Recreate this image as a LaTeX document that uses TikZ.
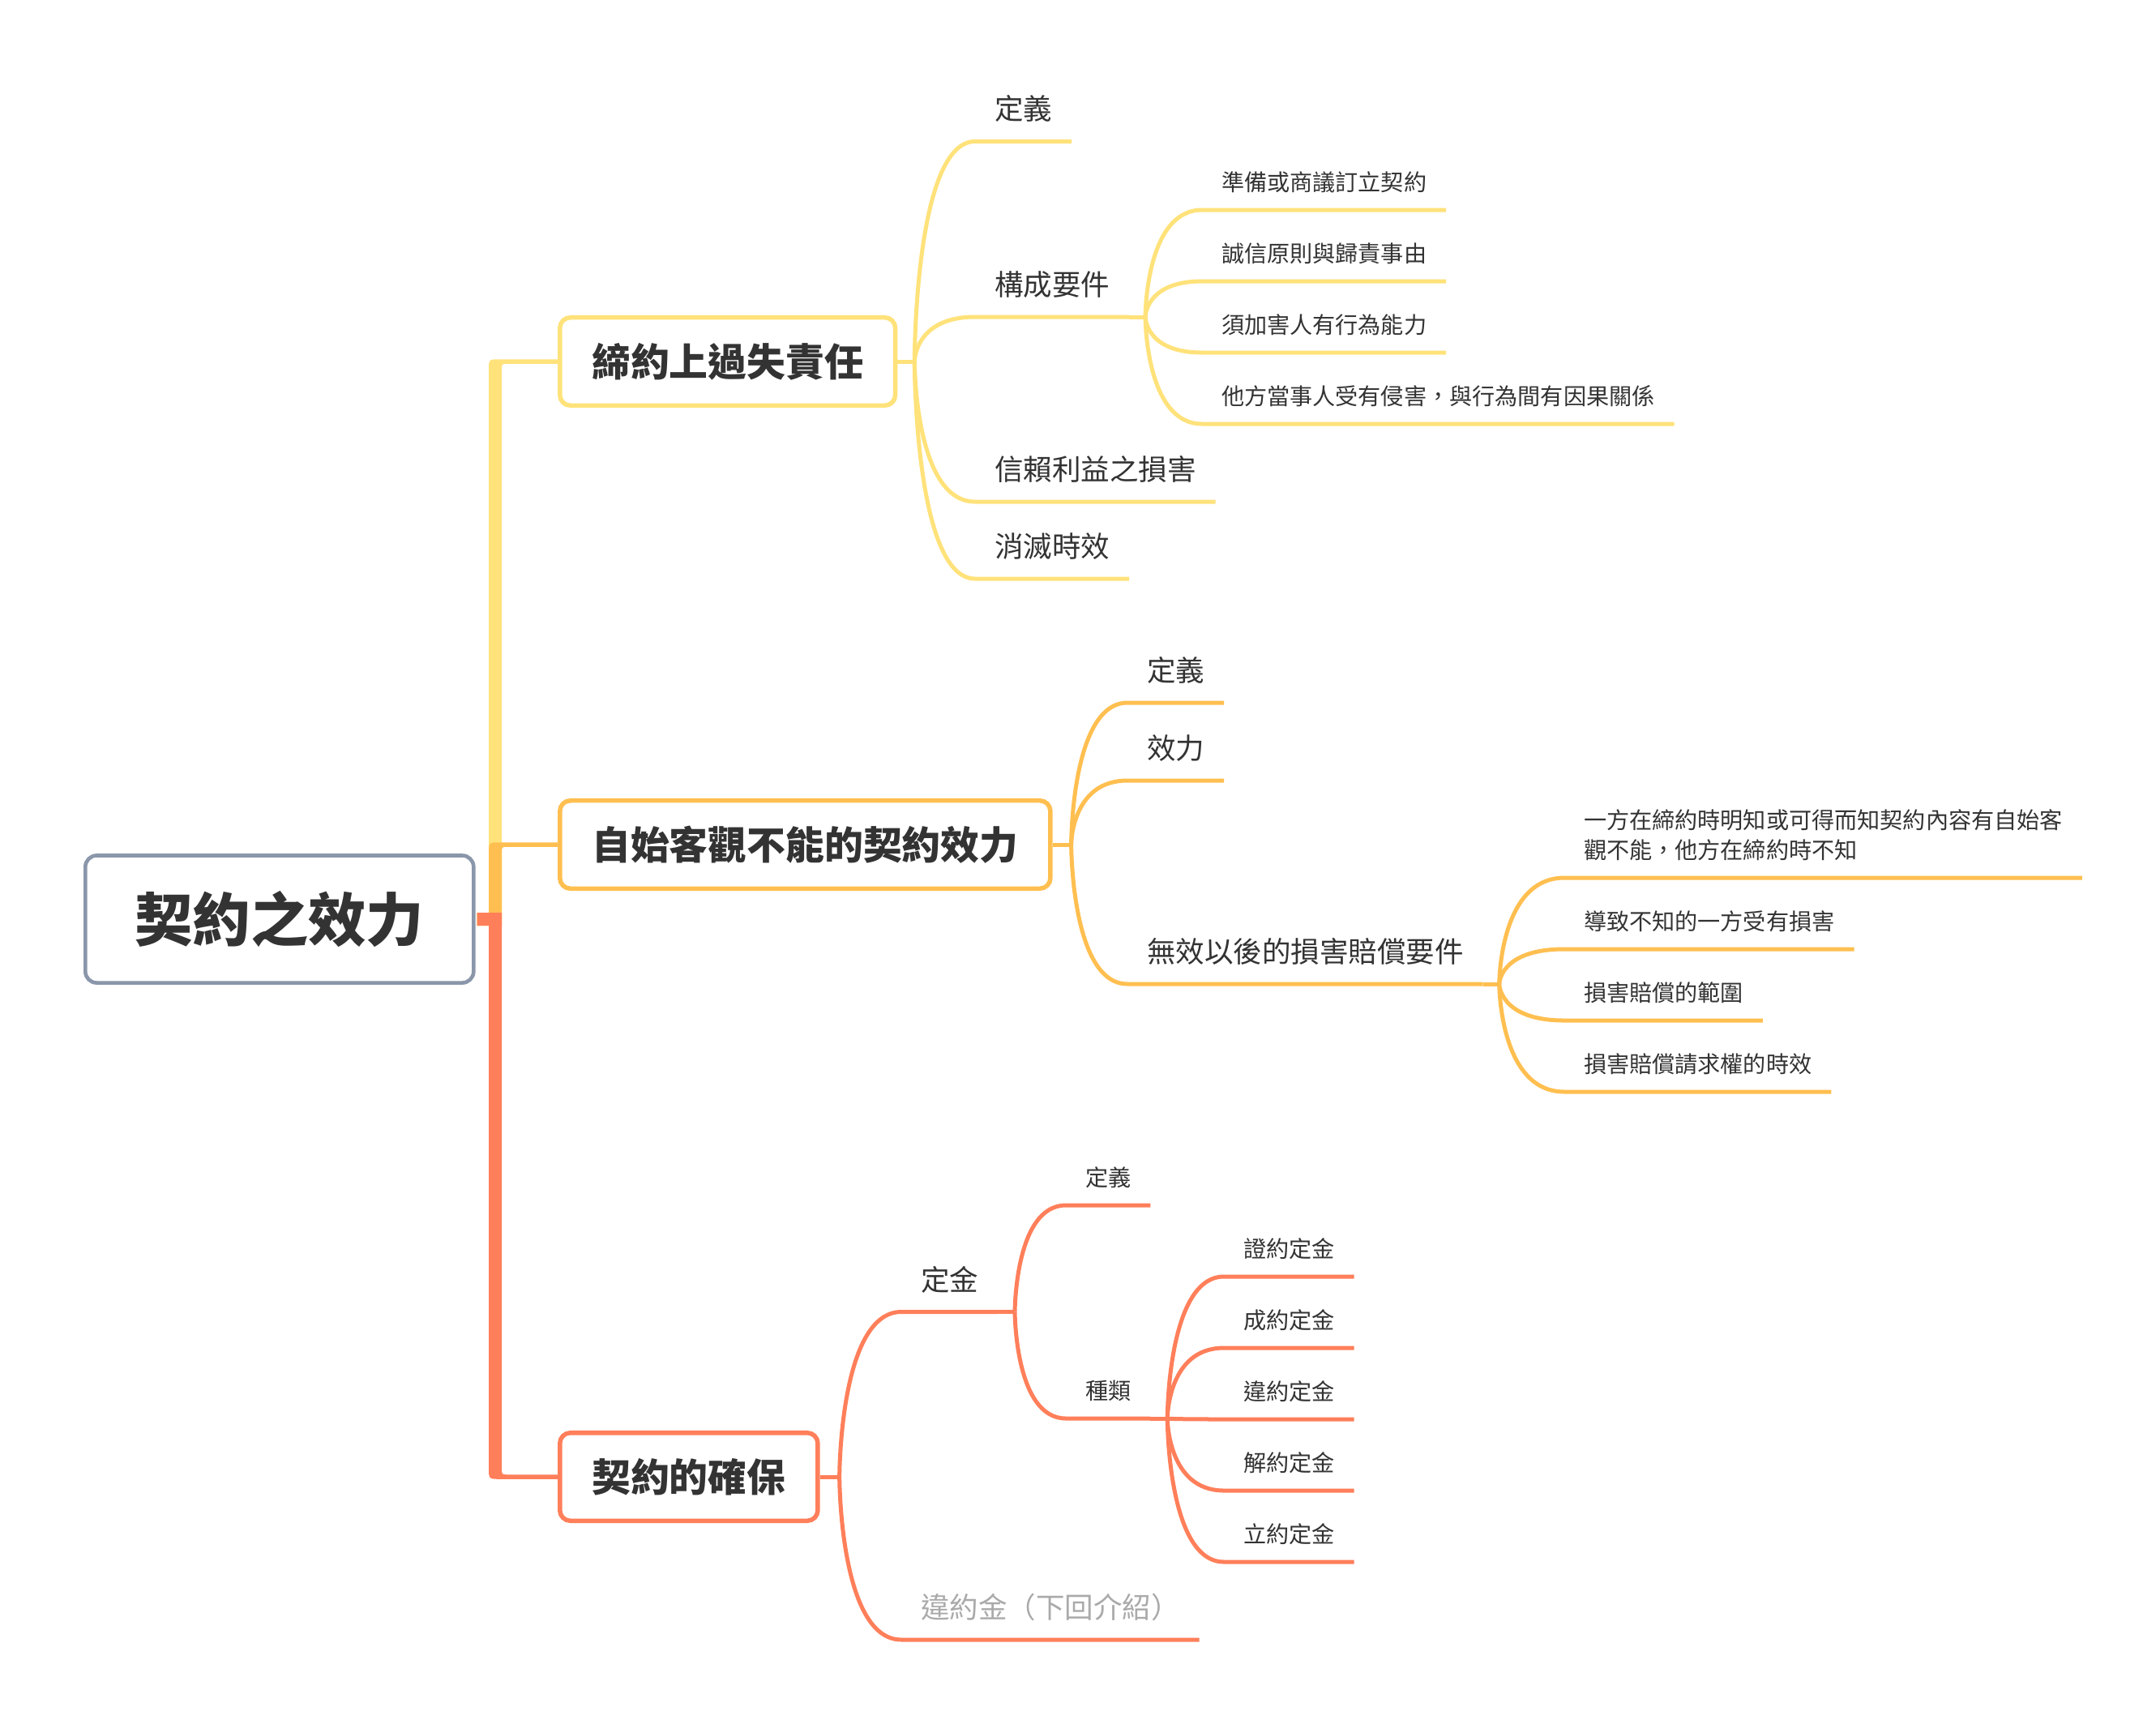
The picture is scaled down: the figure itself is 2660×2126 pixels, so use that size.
\documentclass[tikz,border=0pt]{standalone}
\usepackage{fontspec}
\setmainfont{Noto Sans CJK TC}
\usetikzlibrary{calc,positioning}

\definecolor{rootline}{HTML}{8A96AA}
\definecolor{sunny}{HTML}{FFE27A}
\definecolor{amber}{HTML}{FFBF50}
\definecolor{coral}{HTML}{FF7F5A}
\definecolor{ink}{HTML}{333333}
\definecolor{muted}{HTML}{AAAAAA}

\tikzset{
  central/.style={draw=rootline, line width=0.46mm, rounded corners=1.4mm, fill=white,
    anchor=west, inner xsep=6.1mm, minimum height=15.7mm, text=ink,
    font=\bfseries\fontsize{20.3pt}{24pt}\selectfont},
  topic/.style={line width=0.55mm, rounded corners=1.3mm, fill=white,
    anchor=west, inner xsep=3.95mm, minimum height=10.85mm, text=ink,
    font=\bfseries\fontsize{13.6pt}{16pt}\selectfont},
  sub/.style={anchor=south west, inner xsep=2.4mm, inner ysep=2.65mm, outer sep=0pt,
    text depth=0pt, text=ink, font=\fontsize{10.1pt}{12pt}\selectfont},
  leaf/.style={sub, inner ysep=2.35mm, align=left, font=\fontsize{8pt}{10.5pt}\selectfont},
  twig/.style={line width=0.5mm},
  curl/.style={to path={.. controls (\tikztostart) and (\tikztostart |- \tikztotarget) .. (\tikztotarget)}},
}

\begin{document}
\begin{tikzpicture}[x=0.01cm, y=-0.01cm]
  \useasboundingbox[fill=white] (0,0) rectangle (2660,2126);

  % Central topic
  \node[central] (root) at (103, 1134) {契約之效力};
  \coordinate (trunk) at (611, 1134);

  % Main topics
  \node[topic, draw=sunny] (b1) at (688, 446) {締約上過失責任};
  \node[topic, draw=amber] (b2) at (688, 1042) {自始客觀不能的契約效力};
  \node[topic, draw=coral] (b3) at (688, 1822) {契約的確保};

  % Trunk, upper branches
  \foreach \b/\c in {b1/sunny, b2/amber} {
    \coordinate (elbow) at (trunk |- \b.west);
    \fill[\c] ($(root.east)+(2,-8)$) -- ($(trunk)+(-8,-8)$) -- ($(elbow)+(-8,11.25)$)
      .. controls ($(elbow)+(-8,-2.75)$) .. ($(elbow)+(6,-2.75)$) -- ($(\b.west)+(0,-2.75)$)
      -- ($(\b.west)+(0,2.75)$) -- ($(elbow)+(16,2.75)$)
      .. controls ($(elbow)+(8,2.75)$) .. ($(elbow)+(8,10.75)$) -- ($(trunk)+(8,8)$)
      -- ($(root.east)+(2,8)$) -- cycle;
  }
  % Trunk, lower branch
  \coordinate (elbow) at (trunk |- b3.west);
  \fill[coral] ($(root.east)+(2,-8)$) -- ($(trunk)+(8,-8)$) -- ($(elbow)+(8,-10.75)$)
    .. controls ($(elbow)+(8,-2.75)$) .. ($(elbow)+(16,-2.75)$) -- ($(b3.west)+(0,-2.75)$)
    -- ($(b3.west)+(0,2.75)$) -- ($(elbow)+(6,2.75)$)
    .. controls ($(elbow)+(-8,2.75)$) .. ($(elbow)+(-8,-11.25)$) -- ($(trunk)+(-8,8)$)
    -- ($(root.east)+(2,8)$) -- cycle;

  % Branch 1
  \coordinate (j1) at ($(b1.east)+(21,0)$);
  \draw[twig, sunny] (b1.east) -- (j1);
  \foreach \key/\txt/\y in {def/定義/174.5, req/構成要件/391, trust/信賴利益之損害/619, limit/消滅時效/714} {
    \node[sub] (b1-\key) at (1203, \y) {\txt};
    \draw[twig, sunny] (j1) to[curl] (b1-\key.south west) -- (b1-\key.south east);
  }
  \coordinate (j1r) at ($(b1-req.south east)+(20,0)$);
  \draw[twig, sunny] (b1-req.south east) -- (j1r);
  \foreach \txt [count=\i] in {準備或商議訂立契約, 誠信原則與歸責事由, 須加害人有行為能力, 他方當事人受有侵害，與行為間有因果關係} {
    \node[leaf] (req-\i) at (1483, 171+88*\i) {\txt};
    \draw[twig, sunny] (j1r) to[curl] (req-\i.south west) -- (req-\i.south east);
  }

  % Branch 2
  \coordinate (j2) at ($(b2.east)+(23,0)$);
  \draw[twig, amber] (b2.east) -- (j2);
  \foreach \key/\txt/\y in {def/定義/867, eff/效力/963, claim/無效以後的損害賠償要件/1214} {
    \node[sub] (b2-\key) at (1391, \y) {\txt};
    \draw[twig, amber] (j2) to[curl] (b2-\key.south west) -- (b2-\key.south east);
  }
  \coordinate (j2c) at ($(b2-claim.south east)+(20,0)$);
  \draw[twig, amber] (b2-claim.south east) -- (j2c);
  \foreach \txt [count=\i] in {{一方在締約時明知或可得而知契約內容有自始客\\觀不能，他方在締約時不知}, 導致不知的一方受有損害, 損害賠償的範圍, 損害賠償請求權的時效} {
    \node[leaf] (claim-\i) at (1930, 995+88*\i) {\txt};
    \draw[twig, amber] (j2c) to[curl] (claim-\i.south west) -- (claim-\i.south east);
  }

  % Branch 3
  \coordinate (j3) at ($(b3.east)+(24,0)$);
  \draw[twig, coral] (b3.east) -- (j3);
  \node[sub] (b3-dep) at (1112, 1618.5) {定金};
  \node[sub, text=muted] (b3-pen) at (1112, 2023) {違約金（下回介紹）};
  \foreach \key in {dep, pen}
    \draw[twig, coral] (j3) to[curl] (b3-\key.south west) -- (b3-\key.south east);
  \coordinate (j3d) at ($(b3-dep.south east)+(21,0)$);
  \draw[twig, coral] (b3-dep.south east) -- (j3d);
  \node[leaf] (dep-def) at (1315, 1487) {定義};
  \node[leaf] (dep-kind) at (1315, 1750) {種類};
  \foreach \key in {def, kind}
    \draw[twig, coral] (j3d) to[curl] (dep-\key.south west) -- (dep-\key.south east);
  \coordinate (j3k) at ($(dep-kind.south east)+(21,0)$);
  \draw[twig, coral] (dep-kind.south east) -- (j3k);
  \foreach \txt [count=\i] in {證約定金, 成約定金, 違約定金, 解約定金, 立約定金} {
    \node[leaf] (kind-\i) at (1510, 1487+88*\i) {\txt};
    \draw[twig, coral] (j3k) to[curl] (kind-\i.south west) -- (kind-\i.south east);
  }
\end{tikzpicture}
\end{document}
